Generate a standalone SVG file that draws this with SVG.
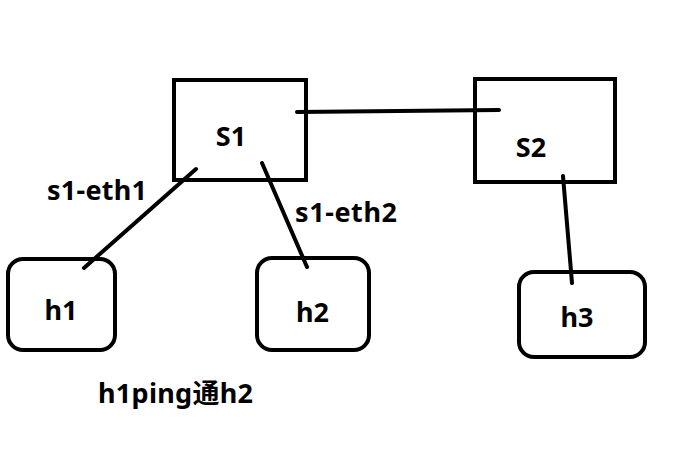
<svg xmlns="http://www.w3.org/2000/svg" width="689" height="469" viewBox="0 0 689 469">
<style>
.box{fill:none;stroke:#000;stroke-width:4}
.ln{stroke:#000;stroke-width:4;stroke-linecap:round;fill:none}
text{font-family:"Noto Sans","Noto Sans CJK SC",sans-serif;font-weight:bold;font-size:27px;fill:#000}
.c{text-anchor:middle}
</style>
<rect width="689" height="469" fill="#fff"/>
<g id="connectors">
<line class="ln" x1="297" y1="112" x2="499" y2="110"/>
<line class="ln" x1="196" y1="169" x2="84" y2="268"/>
<line class="ln" x1="262" y1="163" x2="307" y2="267"/>
<line class="ln" x1="563" y1="176" x2="572" y2="283"/>
</g>
<g id="S1"><rect class="box" x="174" y="80" width="132" height="100"/><text class="c" x="231" y="146">S1</text></g>
<g id="S2"><rect class="box" x="475" y="79" width="140" height="103"/><text class="c" x="531" y="157">S2</text></g>
<g id="h1"><rect class="box" x="8" y="259" width="107" height="91" rx="15"/><text class="c" x="61" y="320">h1</text></g>
<g id="h2"><rect class="box" x="257" y="258" width="112" height="92" rx="15"/><text class="c" x="312.5" y="322">h2</text></g>
<g id="h3"><rect class="box" x="519" y="272" width="126" height="85" rx="15"/><text class="c" x="577" y="327">h3</text></g>
<g id="labels">
<text x="47" y="200" textLength="100">s1-eth1</text>
<text x="295" y="222" textLength="102">s1-eth2</text>
<text x="98" y="403" textLength="155">h1ping通h2</text>
</g>
</svg>
